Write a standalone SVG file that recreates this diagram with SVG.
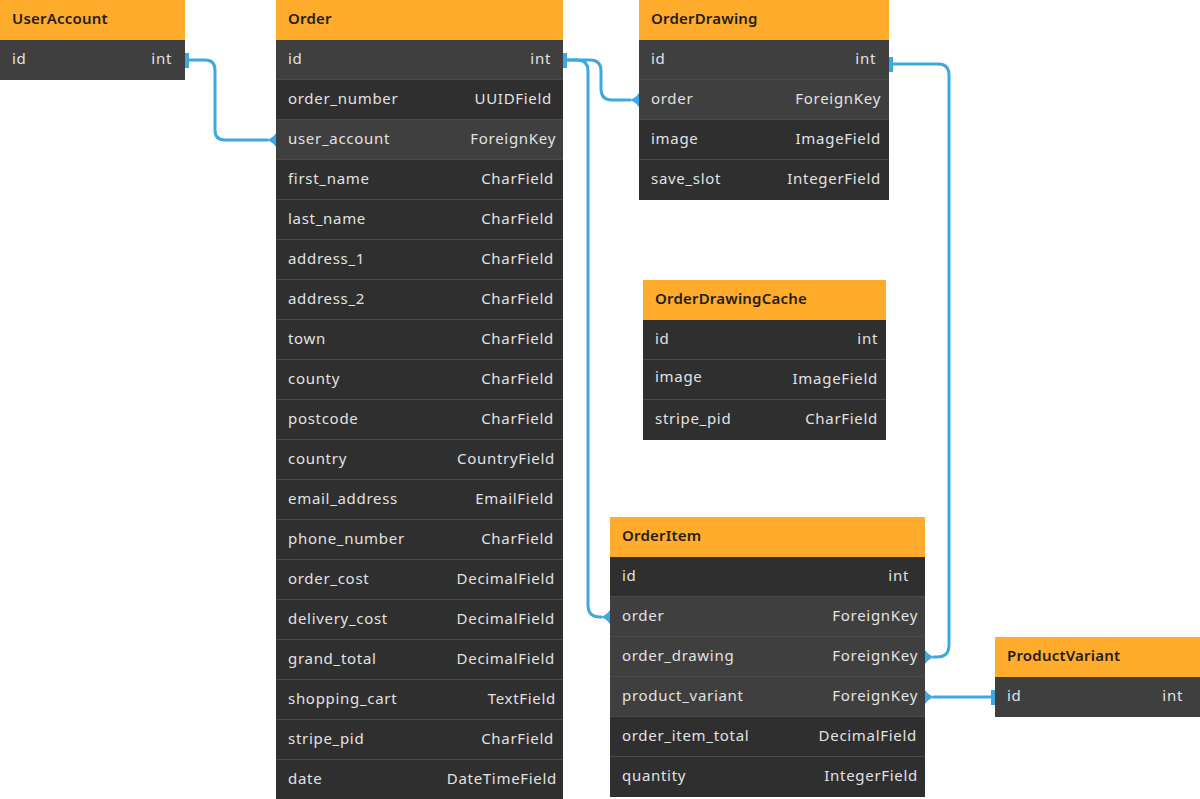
<svg xmlns="http://www.w3.org/2000/svg" width="1200" height="799" viewBox="0 0 1200 799">
<style>
.bg{fill:#ffffff}
.hdr{fill:#FFAB2B}
.row{fill:#2f2f2f}
.hl{fill:#3f3f3f}
.sep{stroke:#4a4a4a;stroke-width:1}
.title{font-family:"Noto Sans","Liberation Sans",sans-serif;font-size:15px;font-weight:600;fill:#1f1f1f;letter-spacing:0.2px}
.fn{font-family:"Noto Sans","Liberation Sans",sans-serif;font-size:15px;fill:#e2e2e2;letter-spacing:0.7px}
.ft{font-family:"Noto Sans","Liberation Sans",sans-serif;font-size:15px;fill:#e2e2e2;text-anchor:end;letter-spacing:0.7px}
.con{fill:none;stroke:#3DA9E0;stroke-width:3}
.mk{fill:#3DA9E0}
</style>
<rect class="bg" x="0" y="0" width="1200" height="799"/>

<g id="UserAccount">
<rect class="hdr" x="0" y="0" width="185" height="40"/>
<text class="title" x="12" y="24">UserAccount</text>
<rect class="hl" x="0" y="40" width="185" height="40"/>
<text class="fn" x="12" y="64">id</text><text class="ft" x="172" y="64">int</text>
</g>

<g id="Order">
<rect class="hdr" x="276" y="0" width="287" height="40"/>
<text class="title" x="288" y="24">Order</text>
<rect class="hl" x="276" y="40" width="287" height="40"/>
<rect class="row" x="276" y="80" width="287" height="40"/>
<rect class="hl" x="276" y="120" width="287" height="40"/>
<rect class="row" x="276" y="160" width="287" height="640"/>
<g class="sep">
<line x1="276" y1="79.5" x2="563" y2="79.5"/><line x1="276" y1="119.5" x2="563" y2="119.5"/><line x1="276" y1="159.5" x2="563" y2="159.5"/><line x1="276" y1="199.5" x2="563" y2="199.5"/><line x1="276" y1="239.5" x2="563" y2="239.5"/><line x1="276" y1="279.5" x2="563" y2="279.5"/><line x1="276" y1="319.5" x2="563" y2="319.5"/><line x1="276" y1="359.5" x2="563" y2="359.5"/><line x1="276" y1="399.5" x2="563" y2="399.5"/><line x1="276" y1="439.5" x2="563" y2="439.5"/><line x1="276" y1="479.5" x2="563" y2="479.5"/><line x1="276" y1="519.5" x2="563" y2="519.5"/><line x1="276" y1="559.5" x2="563" y2="559.5"/><line x1="276" y1="599.5" x2="563" y2="599.5"/><line x1="276" y1="639.5" x2="563" y2="639.5"/><line x1="276" y1="679.5" x2="563" y2="679.5"/><line x1="276" y1="719.5" x2="563" y2="719.5"/><line x1="276" y1="759.5" x2="563" y2="759.5"/>
</g>
<text class="fn" x="288" y="64">id</text><text class="ft" x="551" y="64">int</text>
<text class="fn" x="288" y="104">order_number</text><text class="ft" x="552" y="104">UUIDField</text>
<text class="fn" x="288" y="144">user_account</text><text class="ft" x="556" y="144">ForeignKey</text>
<text class="fn" x="288" y="184">first_name</text><text class="ft" x="554" y="184">CharField</text>
<text class="fn" x="288" y="224">last_name</text><text class="ft" x="554" y="224">CharField</text>
<text class="fn" x="288" y="264">address_1</text><text class="ft" x="554" y="264">CharField</text>
<text class="fn" x="288" y="304">address_2</text><text class="ft" x="554" y="304">CharField</text>
<text class="fn" x="288" y="344">town</text><text class="ft" x="554" y="344">CharField</text>
<text class="fn" x="288" y="384">county</text><text class="ft" x="554" y="384">CharField</text>
<text class="fn" x="288" y="424">postcode</text><text class="ft" x="554" y="424">CharField</text>
<text class="fn" x="288" y="464">country</text><text class="ft" x="555" y="464">CountryField</text>
<text class="fn" x="288" y="504">email_address</text><text class="ft" x="554" y="504">EmailField</text>
<text class="fn" x="288" y="544">phone_number</text><text class="ft" x="554" y="544">CharField</text>
<text class="fn" x="288" y="584">order_cost</text><text class="ft" x="555" y="584">DecimalField</text>
<text class="fn" x="288" y="624">delivery_cost</text><text class="ft" x="555" y="624">DecimalField</text>
<text class="fn" x="288" y="664">grand_total</text><text class="ft" x="555" y="664">DecimalField</text>
<text class="fn" x="288" y="704">shopping_cart</text><text class="ft" x="556" y="704">TextField</text>
<text class="fn" x="288" y="744">stripe_pid</text><text class="ft" x="554" y="744">CharField</text>
<text class="fn" x="288" y="784">date</text><text class="ft" x="557" y="784">DateTimeField</text>
</g>

<g id="OrderDrawing">
<rect class="hdr" x="639" y="0" width="250" height="40"/>
<text class="title" x="651" y="24">OrderDrawing</text>
<rect class="hl" x="639" y="40" width="250" height="80"/>
<rect class="row" x="639" y="120" width="250" height="80"/>
<g class="sep"><line x1="639" y1="79.5" x2="889" y2="79.5"/><line x1="639" y1="119.5" x2="889" y2="119.5"/><line x1="639" y1="159.5" x2="889" y2="159.5"/></g>
<text class="fn" x="651" y="64">id</text><text class="ft" x="876" y="64">int</text>
<text class="fn" x="651" y="104">order</text><text class="ft" x="881" y="104">ForeignKey</text>
<text class="fn" x="651" y="144">image</text><text class="ft" x="881" y="144">ImageField</text>
<text class="fn" x="651" y="184">save_slot</text><text class="ft" x="881" y="184">IntegerField</text>
</g>

<g id="OrderDrawingCache">
<rect class="hdr" x="643" y="280" width="243" height="40"/>
<text class="title" x="655" y="304">OrderDrawingCache</text>
<rect class="row" x="643" y="320" width="243" height="120"/>
<g class="sep"><line x1="643" y1="359.5" x2="886" y2="359.5"/><line x1="643" y1="399.5" x2="886" y2="399.5"/></g>
<text class="fn" x="655" y="344">id</text><text class="ft" x="878" y="344">int</text>
<text class="fn" x="655" y="382">image</text><text class="ft" x="878" y="384">ImageField</text>
<text class="fn" x="655" y="424">stripe_pid</text><text class="ft" x="878" y="424">CharField</text>
</g>

<g id="OrderItem">
<rect class="hdr" x="610" y="517" width="315" height="40"/>
<text class="title" x="622" y="541">OrderItem</text>
<rect class="row" x="610" y="557" width="315" height="40"/>
<rect class="hl" x="610" y="597" width="315" height="120"/>
<rect class="row" x="610" y="717" width="315" height="80"/>
<g class="sep"><line x1="610" y1="596.5" x2="925" y2="596.5"/><line x1="610" y1="636.5" x2="925" y2="636.5"/><line x1="610" y1="676.5" x2="925" y2="676.5"/><line x1="610" y1="716.5" x2="925" y2="716.5"/><line x1="610" y1="756.5" x2="925" y2="756.5"/></g>
<text class="fn" x="622" y="581">id</text><text class="ft" x="909" y="581">int</text>
<text class="fn" x="622" y="621">order</text><text class="ft" x="918" y="621">ForeignKey</text>
<text class="fn" x="622" y="661">order_drawing</text><text class="ft" x="918" y="661">ForeignKey</text>
<text class="fn" x="622" y="701">product_variant</text><text class="ft" x="918" y="701">ForeignKey</text>
<text class="fn" x="622" y="741">order_item_total</text><text class="ft" x="917" y="741">DecimalField</text>
<text class="fn" x="622" y="781">quantity</text><text class="ft" x="918" y="781">IntegerField</text>
</g>

<g id="ProductVariant">
<rect class="hdr" x="995" y="637" width="205" height="40"/>
<text class="title" x="1007" y="661">ProductVariant</text>
<rect class="hl" x="995" y="677" width="205" height="40"/>
<text class="fn" x="1007" y="701">id</text><text class="ft" x="1183" y="701">int</text>
</g>

<g id="connectors">
<path class="con" d="M187,60 H205 Q215,60 215,70 V130 Q215,140 225,140 H268"/>
<rect class="mk" x="185" y="53" width="4" height="15"/>
<path class="mk" d="M265,140 Q272,139 276,133 V147 Q272,141 265,140 Z"/>

<path class="con" d="M565,60 H590 Q601,60 601,71 V89 Q601,100 612,100 H631"/>
<path class="con" d="M565,60 H577 Q588,60 588,71 V605 Q588,617 600,617 H602"/>
<rect class="mk" x="563" y="53" width="4" height="15"/>
<path class="mk" d="M628,100 Q635,99 639,93 V107 Q635,101 628,100 Z"/>
<path class="mk" d="M599,617 Q606,616 610,610 V624 Q606,618 599,617 Z"/>

<path class="con" d="M891,64 H938 Q949,64 949,75 V645 Q949,657 937,657 H933"/>
<rect class="mk" x="889" y="57" width="4" height="15"/>
<path class="mk" d="M936,657 Q929,656 925,650 V664 Q929,658 936,657 Z"/>

<path class="con" d="M933,697 H993"/>
<rect class="mk" x="991" y="690" width="4" height="15"/>
<path class="mk" d="M936,697 Q929,696 925,690 V704 Q929,698 936,697 Z"/>
</g>
</svg>
